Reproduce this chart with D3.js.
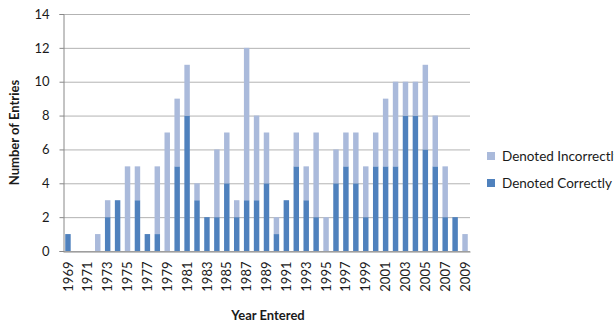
<!DOCTYPE html>
<html><head><meta charset="utf-8">
<script src="https://cdn.jsdelivr.net/npm/d3@7"></script>
<style>body{margin:0;background:#fff}svg{display:block}</style>
</head><body><svg id="c" width="614" height="324"></svg>
<script>
const years = d3.range(1969, 2010).map(String);
const correct =   [1,0,0,0,2,3,0,3,1,1,0,5,8,3,2,2,4,2,3,3,4,1,3,5,3,2,0,4,5,4,2,5,5,5,8,8,6,5,2,2,0];
const incorrect = [0,0,0,1,1,0,5,2,0,4,7,4,3,1,0,4,3,1,9,5,3,1,0,2,2,5,2,2,2,3,3,2,4,5,2,2,5,3,3,0,1];
const yTicks = [0,2,4,6,8,10,12,14];
const xTickLabels = years.filter((d,i)=>i%2===0);
const seriesNames = ["Denoted Incorrectly","Denoted Correctly"];
const colors = {"Denoted Correctly":"#4F81BD","Denoted Incorrectly":"#AABADB"};

const svg = d3.select("#c");
const m = {l:63, r:470, t:14, b:251};
const x = d3.scaleBand().domain(years).range([m.l, m.r]).paddingInner(0.45).paddingOuter(0.225);
const y = d3.scaleLinear().domain([0,14]).range([m.b, m.t]);
const font = "Lato, 'Open Sans', sans-serif";
const txt = "#1a1a1a";

// gridlines
svg.append("g").selectAll("line").data(yTicks).join("line")
  .attr("x1", m.l).attr("x2", m.r).attr("y1", d=>y(d)+0.5).attr("y2", d=>y(d)+0.5)
  .attr("stroke", "#B3B3B3").attr("stroke-width", 1);

const rows = years.map((yr,i)=>({year:yr, "Denoted Correctly":correct[i], "Denoted Incorrectly":incorrect[i]}));
const stack = d3.stack().keys(["Denoted Correctly","Denoted Incorrectly"])(rows);
svg.append("g").selectAll("g").data(stack).join("g").attr("fill", s=>colors[s.key])
  .selectAll("rect").data(s=>s).join("rect")
  .attr("x", d=>x(d.data.year)).attr("width", x.bandwidth())
  .attr("y", d=>y(d[1])).attr("height", d=>y(d[0])-y(d[1]));

// axes
const yAxis = svg.append("g").attr("transform", `translate(${m.l+0.5},0)`)
  .call(d3.axisLeft(y).tickValues(yTicks).tickSize(4).tickPadding(10));
yAxis.select(".domain").attr("stroke","#888");
yAxis.selectAll(".tick line").attr("stroke","#888");
yAxis.selectAll("text").attr("font-family", font).attr("font-size", 13).attr("fill",txt);

const xAxis = svg.append("g").attr("transform", `translate(0,${m.b+0.5})`)
  .call(d3.axisBottom(x).tickValues(xTickLabels).tickSize(0).tickSizeOuter(0));
xAxis.select(".domain").attr("stroke","#888");
xAxis.selectAll("text").attr("font-family", font).attr("font-size", 13).attr("fill",txt)
  .attr("transform","rotate(-90)").attr("text-anchor","end").attr("dx","-10px").attr("dy","0.35em").attr("y",0).attr("x",0);

// titles
svg.append("text").attr("x", 268).attr("y", 320).attr("text-anchor","middle")
  .attr("font-family", font).attr("font-weight","bold").attr("font-size", 13).attr("fill",txt).text("Year Entered");
svg.append("text").attr("transform", `translate(19,${(m.t+m.b)/2}) rotate(-90)`).attr("text-anchor","middle")
  .attr("font-family", font).attr("font-weight","bold").attr("font-size", 13).attr("fill",txt).text("Number of Entries");

// legend
const lg = svg.append("g").selectAll("g").data(seriesNames).join("g")
  .attr("transform", (d,i)=>`translate(487,${156+i*27})`);
lg.append("rect").attr("x",0).attr("y",-4).attr("width",8).attr("height",8).attr("fill", d=>colors[d]);
lg.append("text").attr("x",15).attr("y",0).attr("dy","0.35em")
  .attr("font-family", font).attr("font-size", 13.5).attr("fill",txt).text(d=>d);
</script></body></html>
